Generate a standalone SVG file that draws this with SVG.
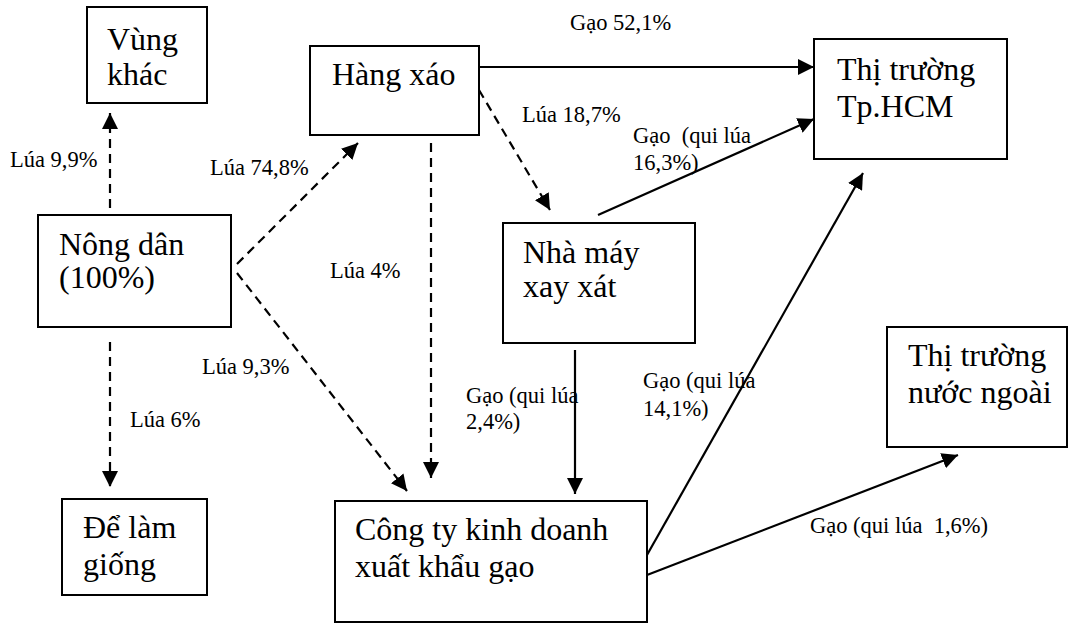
<svg xmlns="http://www.w3.org/2000/svg" width="1070" height="623" viewBox="0 0 1070 623">
<style>
.box{fill:#fff;stroke:#000;stroke-width:2}
.big{font-family:"Liberation Serif","Times New Roman",serif;font-size:32px;fill:#000}
.lbl{font-family:"Liberation Serif","Times New Roman",serif;font-size:22.5px;fill:#000}
.c{stroke:#000;stroke-width:2.2;fill:none}
.d{stroke-dasharray:9,6}
</style>
<defs>
<marker id="ah" markerUnits="userSpaceOnUse" markerWidth="16" markerHeight="16" viewBox="0 0 16 16" refX="16" refY="8" orient="auto">
<path d="M0,0 L16,8 L0,16 Z" fill="#000"/>
</marker>
</defs>
<rect width="1070" height="623" fill="#fff"/>
<g id="connectors">
<line class="c d" x1="110" y1="208" x2="110" y2="113" marker-end="url(#ah)"/>
<line class="c d" x1="110" y1="342" x2="110" y2="487" marker-end="url(#ah)"/>
<line class="c d" x1="237" y1="264" x2="358" y2="143" marker-end="url(#ah)"/>
<line class="c d" x1="237" y1="273" x2="407" y2="491" marker-end="url(#ah)"/>
<line class="c d" x1="431" y1="143" x2="431" y2="478" marker-end="url(#ah)"/>
<line class="c d" x1="479" y1="90" x2="550" y2="210" marker-end="url(#ah)"/>
<line class="c" x1="479" y1="67" x2="814" y2="67" marker-end="url(#ah)"/>
<line class="c" x1="598" y1="215" x2="814" y2="119" marker-end="url(#ah)"/>
<line class="c" x1="575" y1="350" x2="575" y2="494" marker-end="url(#ah)"/>
<line class="c" x1="647" y1="555" x2="863" y2="173" marker-end="url(#ah)"/>
<line class="c" x1="647" y1="575" x2="958" y2="455" marker-end="url(#ah)"/>
<text class="lbl" x="570" y="30">Gạo 52,1%</text>
<text class="lbl" x="10" y="167">Lúa 9,9%</text>
<text class="lbl" x="210" y="175">Lúa 74,8%</text>
<text class="lbl" x="330" y="278">Lúa 4%</text>
<text class="lbl" x="202" y="374">Lúa 9,3%</text>
<text class="lbl" x="130" y="427">Lúa 6%</text>
<text class="lbl" x="522" y="122">Lúa 18,7%</text>
<text class="lbl" x="633" y="143" xml:space="preserve">Gạo  (qui lúa</text>
<text class="lbl" x="633" y="170">16,3%)</text>
<text class="lbl" x="466" y="403">Gạo (qui lúa</text>
<text class="lbl" x="466" y="429">2,4%)</text>
<text class="lbl" x="643" y="388">Gạo (qui lúa</text>
<text class="lbl" x="643" y="416">14,1%)</text>
<text class="lbl" x="810" y="533" xml:space="preserve">Gạo (qui lúa  1,6%)</text>
</g>
<g id="vung-khac">
<rect class="box" x="87" y="7" width="120" height="96"/>
<text class="big" x="107" y="50">Vùng</text>
<text class="big" x="107" y="85">khác</text>
</g>
<g id="nong-dan">
<rect class="box" x="38" y="215" width="193" height="112"/>
<text class="big" x="59" y="255">Nông dân</text>
<text class="big" x="59" y="288">(100%)</text>
</g>
<g id="hang-xao">
<rect class="box" x="310" y="46" width="169" height="89"/>
<text class="big" x="332" y="85">Hàng xáo</text>
</g>
<g id="nha-may">
<rect class="box" x="503" y="223" width="192" height="120"/>
<text class="big" x="523" y="263">Nhà máy</text>
<text class="big" x="523" y="297">xay xát</text>
</g>
<g id="tp-hcm">
<rect class="box" x="814" y="39" width="193" height="120"/>
<text class="big" x="837" y="80">Thị trường</text>
<text class="big" x="837" y="117">Tp.HCM</text>
</g>
<g id="nuoc-ngoai">
<rect class="box" x="887" y="327" width="180" height="120"/>
<text class="big" x="908" y="366">Thị trường</text>
<text class="big" x="908" y="403">nước ngoài</text>
</g>
<g id="giong">
<rect class="box" x="62" y="499" width="145" height="96"/>
<text class="big" x="83" y="538">Để làm</text>
<text class="big" x="83" y="575">giống</text>
</g>
<g id="cong-ty">
<rect class="box" x="335" y="501" width="312" height="121"/>
<text class="big" x="355" y="540">Công ty kinh doanh</text>
<text class="big" x="355" y="577">xuất khẩu gạo</text>
</g>
</svg>
